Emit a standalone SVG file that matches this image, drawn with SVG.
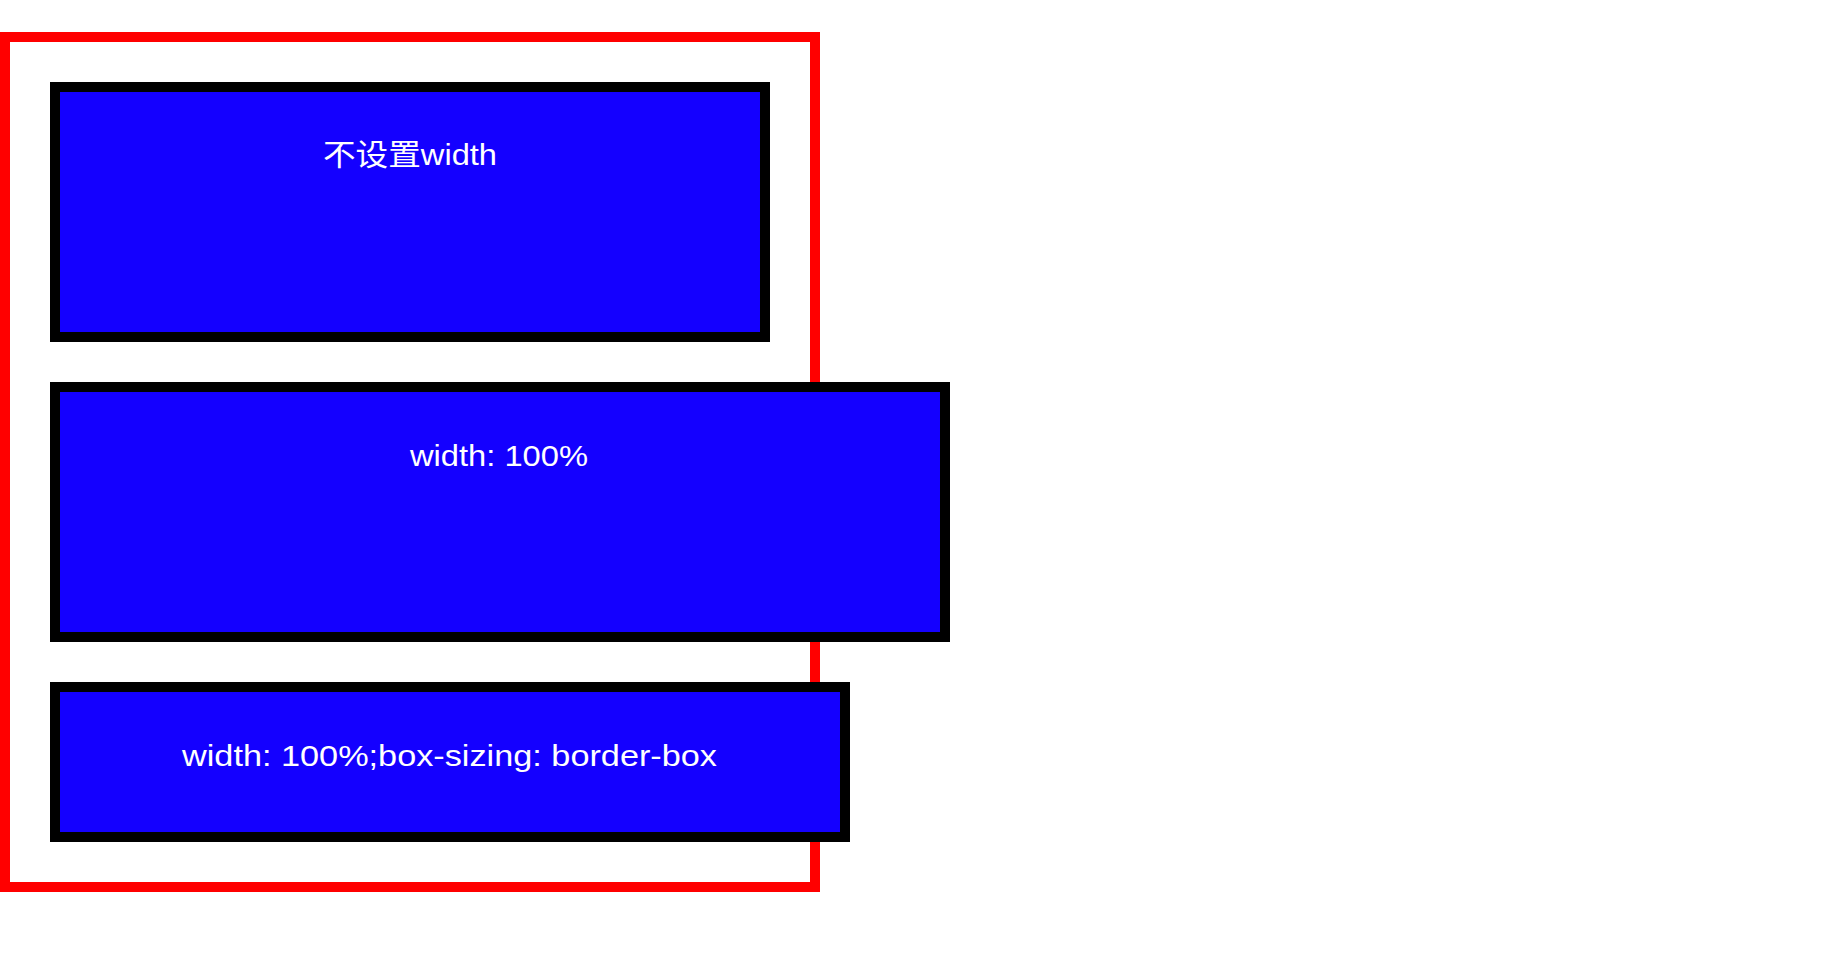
<svg xmlns="http://www.w3.org/2000/svg" width="1838" height="966" viewBox="0 0 1838 966">
<style>
.box{fill:#1400ff;stroke:#000;stroke-width:10}
.lbl{fill:#fff;font-family:"Liberation Sans","Noto Sans CJK SC",sans-serif;font-size:30px;text-anchor:middle}
</style>
<rect width="1838" height="966" fill="#fff"/>
<g id="container"><rect x="5" y="37" width="810" height="850" fill="none" stroke="#ff0000" stroke-width="10"/></g>
<g id="box1"><rect class="box" x="55" y="87" width="710" height="250"/><text class="lbl" x="410" y="165" textLength="174" lengthAdjust="spacingAndGlyphs">不设置width</text></g>
<g id="box2"><rect class="box" x="55" y="387" width="890" height="250"/><text class="lbl" x="499" y="466" textLength="178" lengthAdjust="spacingAndGlyphs">width: 100%</text></g>
<g id="box3"><rect class="box" x="55" y="687" width="790" height="150"/><text class="lbl" x="449.5" y="766" textLength="535" lengthAdjust="spacingAndGlyphs">width: 100%;box-sizing: border-box</text></g>
<g id="connectors"/>
</svg>
